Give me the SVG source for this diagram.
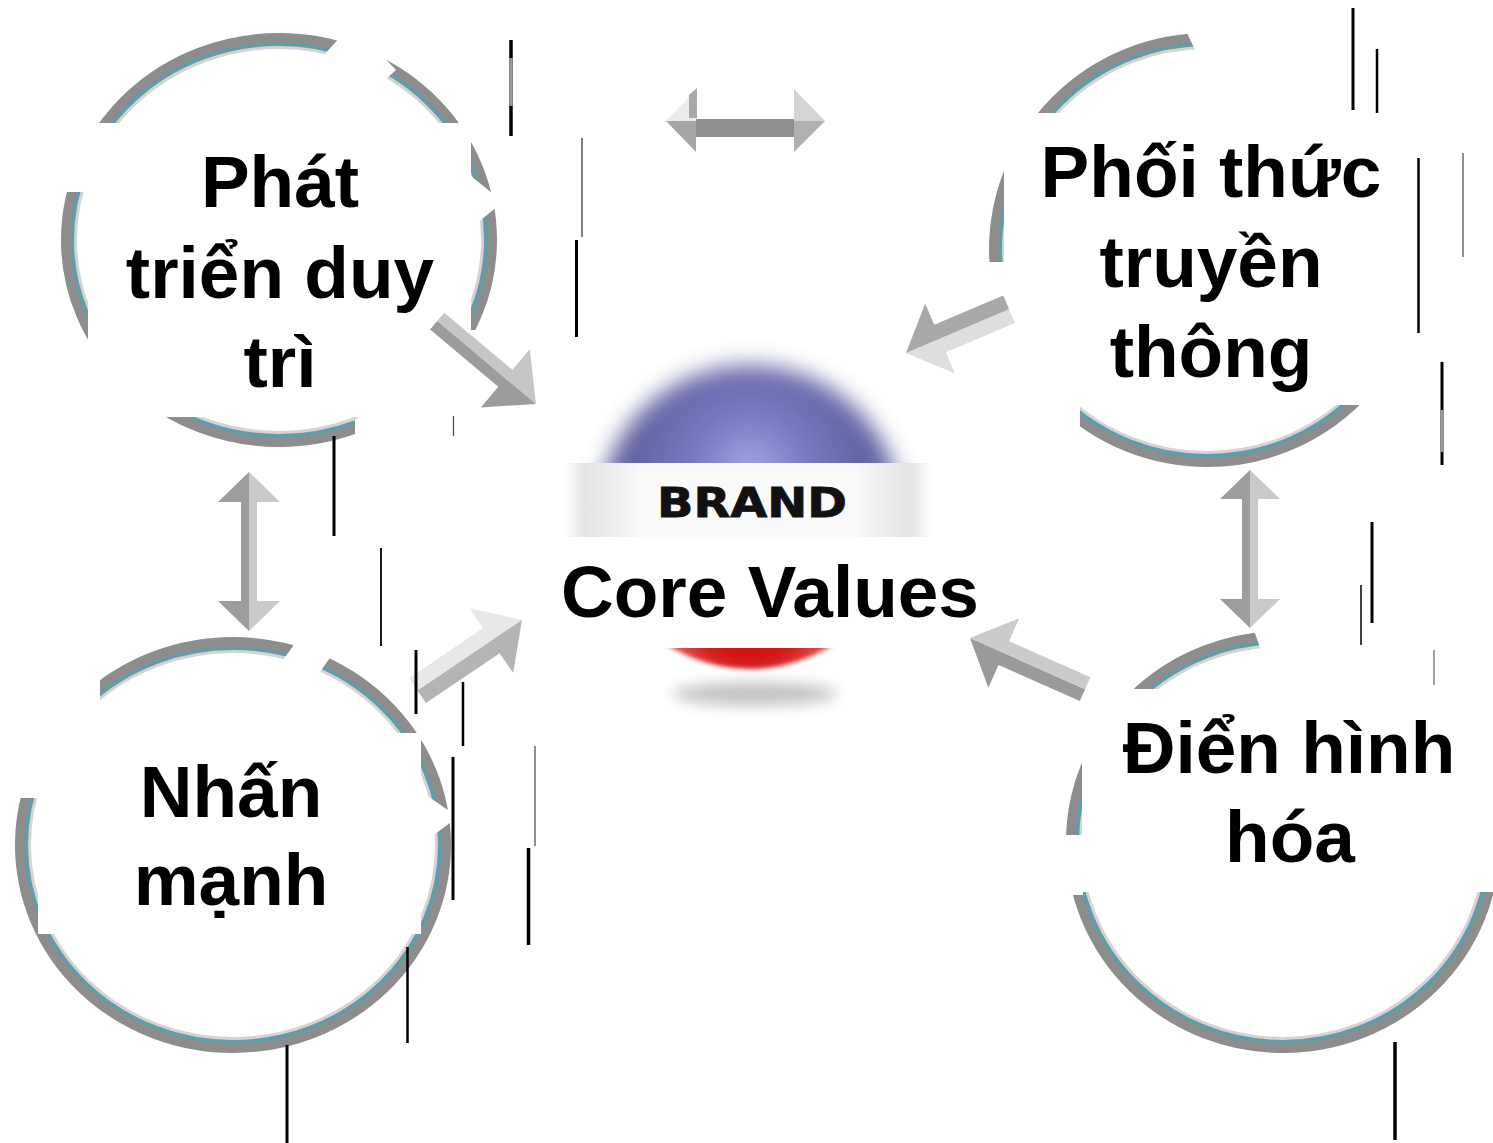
<svg xmlns="http://www.w3.org/2000/svg" width="1493" height="1143" viewBox="0 0 1493 1143">
  <style>
    .lbl { font-family: "Liberation Sans", Arial, "DejaVu Sans", sans-serif; font-weight: 700; font-size: 73px; text-anchor: middle; fill: #000; }
    .box { fill: #fff; }
    .occ { fill: #fff; }
    .ring { fill: #fff; stroke: #8d8d8d; stroke-width: 15; }
    .teal { fill: none; stroke: #4fa3b3; stroke-width: 2.5; }
    .ringin { fill: none; stroke: #d4d4d4; stroke-width: 3; }
    .scan line { stroke: #000; }
  </style>
  <defs>
    <radialGradient id="blueG" cx="750" cy="470" r="165" gradientUnits="userSpaceOnUse">
      <stop offset="0" stop-color="#a4a7e6"/>
      <stop offset="0.35" stop-color="#7679c0"/>
      <stop offset="0.75" stop-color="#5f629f"/>
      <stop offset="1" stop-color="#6a6da8"/>
    </radialGradient>
    <radialGradient id="redG" cx="750" cy="600" r="90" gradientUnits="userSpaceOnUse">
      <stop offset="0" stop-color="#c80f0f"/>
      <stop offset="0.7" stop-color="#d41a1a"/>
      <stop offset="1" stop-color="#e05a5a"/>
    </radialGradient>
    <linearGradient id="bandG" x1="0" y1="0" x2="1" y2="0">
      <stop offset="0" stop-color="#ffffff"/>
      <stop offset="0.06" stop-color="#e4e4e4"/>
      <stop offset="0.22" stop-color="#fafafa"/>
      <stop offset="0.78" stop-color="#fafafa"/>
      <stop offset="0.94" stop-color="#e4e4e4"/>
      <stop offset="1" stop-color="#ffffff"/>
    </linearGradient>
    <filter id="blurDome" x="-30%" y="-30%" width="160%" height="160%"><feGaussianBlur stdDeviation="11"/></filter>
    <filter id="blurSoft" x="-30%" y="-30%" width="160%" height="160%"><feGaussianBlur stdDeviation="2"/></filter>
    <filter id="blurShadow" x="-50%" y="-100%" width="200%" height="300%"><feGaussianBlur stdDeviation="7"/></filter>
    <clipPath id="domeClip"><rect x="540" y="300" width="420" height="163"/></clipPath>
    <clipPath id="redClip"><rect x="540" y="648" width="420" height="60"/></clipPath>
  </defs>

  <rect width="1493" height="1143" fill="#fff"/>

  <!-- node: top left -->
  <g id="node-phat-trien">
    <ellipse class="ring" cx="279" cy="240" rx="210.5" ry="199.5"/>
    <ellipse class="teal" cx="279" cy="240" rx="207" ry="196"/>
    <ellipse class="ringin" cx="279" cy="240" rx="203.5" ry="192.5"/>
    <polygon class="occ" points="294,88 352,24 396,70 352,110"/>
    <polygon class="occ" points="466,172 503,202 466,232"/>
    <polygon class="occ" points="355,420 471,330 520,330 520,470 355,470"/>
    <rect class="occ" x="48" y="118" width="42" height="74"/>
    <rect class="box" x="88" y="123" width="383" height="294"/>
    <text class="lbl" x="280" y="207">Phát</text>
    <text class="lbl" x="280" y="298">triển duy</text>
    <text class="lbl" x="280" y="387">trì</text>
  </g>

  <!-- node: top right -->
  <g id="node-phoi-thuc">
    <ellipse class="ring" cx="1207" cy="250" rx="210.5" ry="209.5"/>
    <ellipse class="teal" cx="1207" cy="250" rx="207" ry="206"/>
    <ellipse class="ringin" cx="1207" cy="250" rx="203.5" ry="202.5"/>
    <polygon class="occ" points="1180,18 1450,18 1450,116 1226,116"/>
    <polygon class="occ" points="965,262 1004,262 1004,405 1080,405 1080,490 965,490"/>
    <rect class="box" x="1004" y="113" width="428" height="292"/>
    <text class="lbl" x="1211" y="197">Phối thức</text>
    <text class="lbl" x="1211" y="287">truyền</text>
    <text class="lbl" x="1211" y="377">thông</text>
  </g>

  <!-- node: bottom left -->
  <g id="node-nhan-manh">
    <ellipse class="ring" cx="233" cy="845" rx="210.5" ry="200.5"/>
    <ellipse class="teal" cx="233" cy="845" rx="207" ry="197"/>
    <ellipse class="ringin" cx="233" cy="845" rx="203.5" ry="193.5"/>
    <polygon class="occ" points="280,664 306,628 334,652 306,692"/>
    <polygon class="occ" points="416,788 458,817 416,848"/>
    <rect class="occ" x="6" y="668" width="94" height="66"/>
    <rect class="occ" x="6" y="730" width="34" height="68"/>
    <rect class="box" x="38" y="733" width="383" height="201"/>
    <text class="lbl" x="231" y="817">Nhấn</text>
    <text class="lbl" x="231" y="905">mạnh</text>
  </g>

  <!-- node: bottom right -->
  <g id="node-dien-hinh">
    <ellipse class="ring" cx="1283" cy="842" rx="209.5" ry="203.5"/>
    <ellipse class="teal" cx="1283" cy="842" rx="206" ry="200"/>
    <ellipse class="ringin" cx="1283" cy="842" rx="202.5" ry="196.5"/>
    <polygon class="occ" points="1248,612 1500,612 1500,690 1274,690"/>
    <rect class="occ" x="1055" y="835" width="28" height="60"/>
    <rect class="box" x="1082" y="689" width="411" height="203"/>
    <text class="lbl" x="1289" y="773">Điển hình</text>
    <text class="lbl" x="1290" y="862">hóa</text>
  </g>

  <!-- node: centre brand sphere -->
  <g id="node-core-values">
    <ellipse cx="755" cy="694" rx="82" ry="12" fill="#c4c4c4" filter="url(#blurShadow)"/>
    <g clip-path="url(#domeClip)">
      <circle cx="750" cy="517" r="152" fill="url(#blueG)" filter="url(#blurDome)"/>
    </g>
    <g clip-path="url(#redClip)">
      <circle cx="750" cy="512" r="157" fill="url(#redG)" filter="url(#blurSoft)"/>
    </g>
    <rect x="563" y="463" width="370" height="74" fill="url(#bandG)"/>
    <rect class="box" x="540" y="537" width="460" height="111"/>
    <text x="752" y="517" font-family="'DejaVu Sans', 'Liberation Sans', sans-serif" font-weight="700" font-size="40" text-anchor="middle" fill="#111" stroke="#111" stroke-width="0.8" textLength="190" lengthAdjust="spacingAndGlyphs">BRAND</text>
    <text class="lbl" x="770" y="617">Core Values</text>
  </g>

  <!-- connectors: bevelled grey arrows -->
  <g id="connectors">
    <!-- top: double arrow between upper nodes -->
    <g id="arrow-top">
      <rect x="693" y="119" width="103" height="18" fill="#8f8f8f"/>
      <polygon points="666,121 696,90 696,121" fill="#ececec"/>
      <polygon points="689,95 697,88 697,118 689,118" fill="#a8a8a8"/>
      <polygon points="666,121 696,121 696,152" fill="#a6a6a6"/>
      <polygon points="825,121 794,89 794,121" fill="#d4d4d4"/>
      <polygon points="825,121 794,121 794,152" fill="#b0b0b0"/>
    </g>
    <!-- top-left node to centre -->
    <g id="arrow-tl" transform="translate(536,404) rotate(40)">
      <polygon points="0,0 -40,-38 -40,-11 -129,-11 -129,0" fill="#c6c6c6"/>
      <polygon points="0,0 -129,0 -129,11 -40,11 -40,38" fill="#9c9c9c"/>
    </g>
    <!-- top-right node to centre -->
    <g id="arrow-tr" transform="translate(906,353) rotate(157)">
      <polygon points="0,0 -37,-38 -37,-15 -112,-15 -112,0" fill="#dedede"/>
      <polygon points="0,0 -112,0 -112,15 -37,15 -37,38" fill="#a9a9a9"/>
    </g>
    <!-- left: double arrow between left nodes -->
    <g id="arrow-left" transform="translate(249,631) rotate(90)">
      <polygon points="0,0 -30,-31 -30,-8 -129,-8 -129,-31 -159,0" fill="#cacaca"/>
      <polygon points="0,0 -159,0 -129,31 -129,8 -30,8 -30,31" fill="#9d9d9d"/>
    </g>
    <!-- right: double arrow between right nodes -->
    <g id="arrow-right" transform="translate(1250,628) rotate(90)">
      <polygon points="0,0 -29,-30 -29,-8 -129,-8 -129,-30 -158,0" fill="#cacaca"/>
      <polygon points="0,0 -158,0 -129,30 -129,8 -29,8 -29,30" fill="#9d9d9d"/>
    </g>
    <!-- bottom-left node to centre -->
    <g id="arrow-bl" transform="translate(522,620) rotate(-34)">
      <polygon points="0,0 -37,-39 -37,-15 -126,-15 -126,0" fill="#e8e8e8"/>
      <polygon points="0,0 -126,0 -126,15 -37,15 -37,39" fill="#b4b4b4"/>
    </g>
    <!-- bottom-right node to centre -->
    <g id="arrow-br" transform="translate(970,638) rotate(204)">
      <polygon points="0,0 -37,-38 -37,-13 -126,-13 -126,0" fill="#9a9a9a"/>
      <polygon points="0,0 -126,0 -126,13 -37,13 -37,38" fill="#cbcbcb"/>
    </g>
  </g>

  <!-- thin vertical rules -->
  <g class="scan" id="rules">
    <line x1="511" y1="40" x2="511" y2="136" stroke-width="3.5"/>
    <line x1="511" y1="58" x2="511" y2="106" stroke-width="3.5" style="stroke:#9a9a9a"/>
    <line x1="582" y1="138" x2="582" y2="237" stroke-width="1.5" style="stroke:#555"/>
    <line x1="576.5" y1="240" x2="576.5" y2="337" stroke-width="3"/>
    <line x1="1353" y1="8" x2="1353" y2="110" stroke-width="3"/>
    <line x1="1377" y1="49" x2="1377" y2="113" stroke-width="2.5"/>
    <line x1="1418.5" y1="158" x2="1418.5" y2="333" stroke-width="2.5"/>
    <line x1="1463" y1="153" x2="1463" y2="257" stroke-width="1.2" style="stroke:#444"/>
    <line x1="1442" y1="362" x2="1442" y2="465" stroke-width="3"/>
    <line x1="1442" y1="410" x2="1442" y2="452" stroke-width="3" style="stroke:#9a9a9a"/>
    <line x1="334" y1="436" x2="334" y2="536" stroke-width="3"/>
    <line x1="453.5" y1="416" x2="453.5" y2="436" stroke-width="1.2" style="stroke:#444"/>
    <line x1="381" y1="548" x2="381" y2="646" stroke-width="1.8"/>
    <line x1="416" y1="650" x2="416" y2="714" stroke-width="3"/>
    <line x1="463" y1="682" x2="463" y2="746" stroke-width="2.5"/>
    <line x1="453" y1="757" x2="453" y2="900" stroke-width="3"/>
    <line x1="535" y1="746" x2="535" y2="846" stroke-width="1.2" style="stroke:#444"/>
    <line x1="528.5" y1="848" x2="528.5" y2="945" stroke-width="3.5"/>
    <line x1="407.5" y1="947" x2="407.5" y2="1043" stroke-width="2.5"/>
    <line x1="287" y1="1045" x2="287" y2="1143" stroke-width="3"/>
    <line x1="1372" y1="522" x2="1372" y2="623" stroke-width="3"/>
    <line x1="1361" y1="585" x2="1361" y2="645" stroke-width="1.5"/>
    <line x1="1434" y1="650" x2="1434" y2="685" stroke-width="1" style="stroke:#444"/>
    <line x1="1395" y1="1042" x2="1395" y2="1140" stroke-width="3.5"/>
  </g>
</svg>
